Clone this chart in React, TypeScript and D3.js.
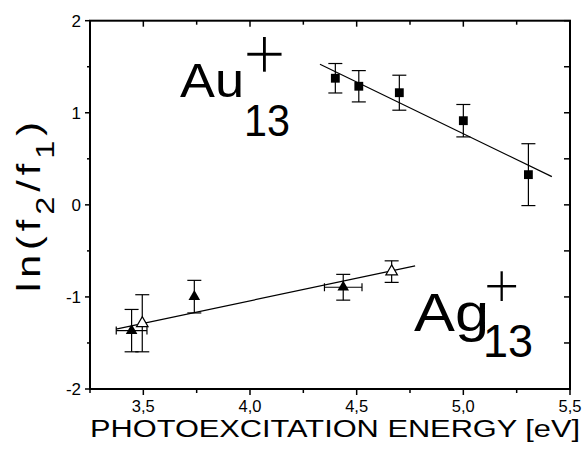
import React from 'react';
import * as d3 from 'd3';

// data: photon energy [eV] vs ln(f2/f1)
const auEnergy = [4.4, 4.51, 4.7, 5.0, 5.305];
const auValue = [1.375, 1.288, 1.218, 0.914, 0.328];
const auError = [0.16, 0.17, 0.19, 0.176, 0.336];

const agFilledEnergy = [3.445, 3.739, 4.437];
const agFilledValue = [-1.366, -0.997, -0.895];
const agFilledError = [0.23, 0.177, 0.14];
const agFilledEnergyError = [0.072, 0, 0.088];

const agOpenEnergy = [3.495, 4.664];
const agOpenValue = [-1.286, -0.725];
const agOpenError = [0.31, 0.117];

// linear fits (slope, intercept, drawn range)
const auFit = { slope: -1.123, intercept: 6.388, from: 4.328, to: 5.415 };
const agFit = { slope: 0.491, intercept: -3.006, from: 3.372, to: 4.774 };

const xMajor = [3.5, 4.0, 4.5, 5.0, 5.5];
const xMinor = [3.25, 3.75, 4.25, 4.75, 5.25];
const yMajor = [-2, -1, 0, 1, 2];
const yMinor = [-1.5, -0.5, 0.5, 1.5];

const W = 587;
const H = 457;
const margin = { left: 90, right: 17, top: 20.7, bottom: 68 };

const font = '"Liberation Sans", Arial, Helvetica, sans-serif';

const locale = d3.formatLocale({
  decimal: ',',
  thousands: '.',
  grouping: [3],
  currency: ['', ''],
  minus: '-',
});
const fmtX = locale.format('.1f');
const fmtY = locale.format('d');

const App = () => {
  const x = d3.scaleLinear().domain([3.25, 5.5]).range([margin.left, W - margin.right]);
  const y = d3.scaleLinear().domain([-2, 2]).range([H - margin.bottom, margin.top]);
  const [x0, x1] = x.range();
  const [yb, yt] = y.range();

  const square = d3.symbol().type(d3.symbolSquare).size(78)();
  const triangle = d3.symbol().type(d3.symbolTriangle).size(58)();

  const fitLine = (f: typeof auFit) =>
    d3.line()([
      [x(f.from), y(f.slope * f.from + f.intercept)],
      [x(f.to), y(f.slope * f.to + f.intercept)],
    ]) as string;

  const vBar = (cx: number, v: number, e: number, key: string) => (
    <g key={key} stroke="#000" strokeWidth={1.2}>
      <line x1={x(cx)} x2={x(cx)} y1={y(v + e)} y2={y(v - e)} />
      <line x1={x(cx) - 7} x2={x(cx) + 7} y1={y(v + e)} y2={y(v + e)} />
      <line x1={x(cx) - 7} x2={x(cx) + 7} y1={y(v - e)} y2={y(v - e)} />
    </g>
  );

  const hBar = (cx: number, v: number, e: number, key: string) =>
    e > 0 ? (
      <g key={key} stroke="#000" strokeWidth={1.2}>
        <line x1={x(cx - e)} x2={x(cx + e)} y1={y(v)} y2={y(v)} />
        <line x1={x(cx - e)} x2={x(cx - e)} y1={y(v) - 4} y2={y(v) + 4} />
        <line x1={x(cx + e)} x2={x(cx + e)} y1={y(v) - 4} y2={y(v) + 4} />
      </g>
    ) : null;

  return (
    <svg
      width={W}
      height={H}
      style={{ position: 'absolute', left: 0, top: 0, background: '#fff' }}
      fontFamily={font}
    >
      {/* frame */}
      <rect x={x0} y={yt} width={x1 - x0} height={yb - yt} fill="none" stroke="#000" strokeWidth={2} />

      {/* left axis ticks (outward) */}
      {yMajor.map((v) => (
        <line key={'lM' + v} x1={x0 - 5} x2={x0} y1={y(v)} y2={y(v)} stroke="#000" strokeWidth={1.5} />
      ))}
      {yMinor.map((v) => (
        <line key={'lm' + v} x1={x0 - 3} x2={x0} y1={y(v)} y2={y(v)} stroke="#000" strokeWidth={1.5} />
      ))}
      {/* right axis ticks (inward) */}
      {[...yMajor, ...yMinor].map((v) => (
        <line key={'r' + v} x1={x1 - 6} x2={x1} y1={y(v)} y2={y(v)} stroke="#000" strokeWidth={1.5} />
      ))}
      {/* bottom ticks (outward) */}
      {xMajor.map((v) => (
        <line key={'bM' + v} x1={x(v)} x2={x(v)} y1={yb} y2={yb + 6} stroke="#000" strokeWidth={1.5} />
      ))}
      {xMinor.map((v) => (
        <line key={'bm' + v} x1={x(v)} x2={x(v)} y1={yb} y2={yb + 4} stroke="#000" strokeWidth={1.5} />
      ))}
      {/* top ticks (inward) */}
      {xMajor.map((v) => (
        <line key={'tM' + v} x1={x(v)} x2={x(v)} y1={yt} y2={yt + 6} stroke="#000" strokeWidth={1.5} />
      ))}
      {xMinor.map((v) => (
        <line key={'tm' + v} x1={x(v)} x2={x(v)} y1={yt} y2={yt + 4} stroke="#000" strokeWidth={1.5} />
      ))}

      {/* tick labels */}
      {yMajor.map((v) => (
        <text key={'yl' + v} x={x0 - 9} y={y(v)} dy="0.36em" textAnchor="end" fontSize={17}>
          {fmtY(v)}
        </text>
      ))}
      {xMajor.map((v) => (
        <text key={'xl' + v} x={x(v)} y={412} textAnchor="middle" fontSize={16.5}>
          {fmtX(v)}
        </text>
      ))}

      {/* axis titles */}
      <text x={x0} y={437} fontSize={23} textLength={490} lengthAdjust="spacingAndGlyphs">
        PHOTOEXCITATION ENERGY [eV]
      </text>
      <text
        transform="translate(40,292) rotate(-90)"
        fontSize={33}
        letterSpacing={4}
        textLength={175}
        lengthAdjust="spacingAndGlyphs"
      >
        ln(f
        <tspan fontSize={26} dy={14}>2</tspan>
        <tspan dy={-14}>/f</tspan>
        <tspan fontSize={26} dy={14}>1</tspan>
        <tspan dy={-14}>)</tspan>
      </text>

      {/* fits */}
      <path d={fitLine(auFit)} stroke="#000" strokeWidth={1.2} fill="none" />
      <path d={fitLine(agFit)} stroke="#000" strokeWidth={1.2} fill="none" />

      {/* Au13+ */}
      {auEnergy.map((e, i) => vBar(e, auValue[i], auError[i], 'au' + i))}
      {auEnergy.map((e, i) => (
        <path key={'aus' + i} d={square} transform={`translate(${x(e)},${y(auValue[i])})`} fill="#000" />
      ))}

      {/* Ag13+ */}
      {agFilledEnergy.map((e, i) => vBar(e, agFilledValue[i], agFilledError[i], 'agf' + i))}
      {agFilledEnergy.map((e, i) => hBar(e, agFilledValue[i], agFilledEnergyError[i], 'agh' + i))}
      {agOpenEnergy.map((e, i) => vBar(e, agOpenValue[i], agOpenError[i], 'ago' + i))}
      {agFilledEnergy.map((e, i) => (
        <path key={'agft' + i} d={triangle} transform={`translate(${x(e)},${y(agFilledValue[i])})`} fill="#000" />
      ))}
      {agOpenEnergy.map((e, i) => (
        <path
          key={'agot' + i}
          d={triangle}
          transform={`translate(${x(e)},${y(agOpenValue[i])})`}
          fill="#fff"
          stroke="#000"
          strokeWidth={1.2}
        />
      ))}

      {/* cluster labels */}
      <text x={180} y={96.7} fontSize={49} textLength={64} lengthAdjust="spacingAndGlyphs">Au</text>
      <text x={244} y={136} fontSize={45} textLength={46} lengthAdjust="spacingAndGlyphs">13</text>
      <text x={264.5} y={80} fontSize={76} textAnchor="middle" stroke="#fff" strokeWidth={2.6}>+</text>

      <text x={414} y={330.7} fontSize={54} textLength={75} lengthAdjust="spacingAndGlyphs">Ag</text>
      <text x={483} y={357} fontSize={46} textLength={50} lengthAdjust="spacingAndGlyphs">13</text>
      <text x={501.7} y={307.7} fontSize={64} textAnchor="middle" stroke="#fff" strokeWidth={2.2}>+</text>
    </svg>
  );
};

export default App;
